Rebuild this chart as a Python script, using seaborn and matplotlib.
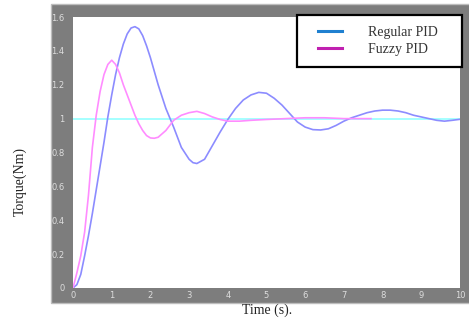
import pandas as pd
import matplotlib.pyplot as plt
import seaborn as sns
from matplotlib.lines import Line2D
from matplotlib.patches import Rectangle
from matplotlib.legend_handler import HandlerLine2D

# values
t_regular = [0, 0.1, 0.2, 0.3, 0.4, 0.5, 0.6, 0.7, 0.8, 0.9, 1.0, 1.1, 1.2, 1.3, 1.4,
             1.5, 1.6, 1.7, 1.8, 1.9, 2.0, 2.2, 2.4, 2.6, 2.8, 3.0, 3.1, 3.2, 3.4, 3.6,
             3.8, 4.0, 4.2, 4.4, 4.6, 4.8, 5.0, 5.2, 5.4, 5.6, 5.8, 6.0, 6.2, 6.4, 6.6,
             6.8, 7.0, 7.2, 7.4, 7.6, 7.8, 8.0, 8.2, 8.4, 8.6, 8.8, 9.0, 9.2, 9.4, 9.6,
             9.8, 10]
torque_regular = [0, 0.02, 0.08, 0.19, 0.31, 0.44, 0.58, 0.72, 0.86, 1.01, 1.14, 1.26,
                  1.36, 1.44, 1.50, 1.535, 1.543, 1.53, 1.49, 1.43, 1.36, 1.20, 1.06,
                  0.95, 0.83, 0.76, 0.74, 0.735, 0.76, 0.84, 0.92, 0.995, 1.06, 1.11,
                  1.14, 1.155, 1.15, 1.12, 1.08, 1.03, 0.98, 0.95, 0.935, 0.933, 0.94,
                  0.96, 0.985, 1.005, 1.02, 1.035, 1.045, 1.05, 1.05, 1.045, 1.035,
                  1.02, 1.01, 1.0, 0.99, 0.985, 0.99, 0.996]

t_fuzzy = [0, 0.1, 0.2, 0.3, 0.4, 0.5, 0.6, 0.7, 0.8, 0.9, 1.0, 1.1, 1.2, 1.3, 1.4, 1.5,
           1.6, 1.7, 1.8, 1.9, 2.0, 2.1, 2.2, 2.4, 2.5, 2.6, 2.8, 3.0, 3.2, 3.4, 3.6,
           3.8, 4.0, 4.3, 4.6, 5.0, 5.5, 6.0, 6.5, 7.0, 7.5, 7.7]
torque_fuzzy = [0, 0.09, 0.19, 0.33, 0.55, 0.83, 1.02, 1.16, 1.26, 1.32, 1.345, 1.32,
                1.27, 1.20, 1.14, 1.08, 1.02, 0.97, 0.93, 0.90, 0.886, 0.884, 0.89,
                0.93, 0.96, 0.99, 1.02, 1.035, 1.043, 1.03, 1.01, 0.995, 0.985, 0.985,
                0.99, 0.995, 1.0, 1.005, 1.005, 1.0, 1.0, 1.0]

t_ref = [0, 10]
torque_ref = [1, 1]

y_ticks = [0, 0.2, 0.4, 0.6, 0.8, 1, 1.2, 1.4, 1.6]
y_tick_labels = ['0', '0.2', '0.4', '0.6', '0.8', '1', '1.2', '1.4', '1.6']
x_ticks = list(range(0, 11))

df_reg = pd.DataFrame({'t': t_regular, 'v': torque_regular})
df_fuz = pd.DataFrame({'t': t_fuzzy, 'v': torque_fuzzy})
df_ref = pd.DataFrame({'t': t_ref, 'v': torque_ref})

fig = plt.figure(figsize=(4.69, 3.22), dpi=100)
# grey frame behind the plot area
fig.patches.append(Rectangle((0.1087, 0.059), 0.895, 0.929, transform=fig.transFigure,
                             facecolor='#7d7d7d', edgecolor='#bdbdbd', lw=1, zorder=-1))
ax = fig.add_axes([0.1557, 0.1056, 0.825, 0.8416])
ax.set_zorder(2)
ax.set_facecolor('white')

sns.lineplot(data=df_ref, x='t', y='v', ax=ax, color='#8cffff', lw=1.1)
sns.lineplot(data=df_reg, x='t', y='v', ax=ax, color='#8c8cff', lw=1.2)
sns.lineplot(data=df_fuz, x='t', y='v', ax=ax, color='#ff8cff', lw=1.2)

ax.set_xlim(0, 10)
ax.set_ylim(0, 1.6)
ax.set_xticks(x_ticks)
ax.set_xticklabels([str(x) for x in x_ticks])
ax.set_yticks(y_ticks)
ax.set_yticklabels(y_tick_labels)
ax.tick_params(length=0, labelsize=6, labelcolor='#dedede')
ax.tick_params(axis='y', pad=6)
ax.tick_params(axis='x', pad=2)
for s in ax.spines.values():
    s.set_visible(False)
ax.set_xlabel('')
ax.set_ylabel('')

fig.text(0.043, 0.435, 'Torque(Nm)', rotation=90, ha='center', va='center',
         family='Liberation Serif', fontsize=10, color='#222222')
fig.text(0.57, 0.035, 'Time (s).', ha='center', va='center',
         family='Liberation Serif', fontsize=10, color='#222222')

handles = [Line2D([], [], color='#1f80d0', lw=2.2),
           Line2D([], [], color='#c020b0', lw=2.2)]
leg = ax.legend(handles, ['Regular PID', 'Fuzzy PID'],
                loc='upper left', bbox_to_anchor=(0.579, 1.007, 0.426, 0.0), mode='expand',
                prop={'family': 'Liberation Serif', 'size': 10}, labelcolor='#333333',
                handler_map={Line2D: HandlerLine2D(xpad=0.72)},
                handlelength=2.45, handletextpad=1.85, borderpad=0.8, labelspacing=0.25,
                borderaxespad=0, fancybox=False, framealpha=1)
leg.get_frame().set_edgecolor('black')
leg.get_frame().set_linewidth(1.6)
leg.set_zorder(5)

fig.savefig('out.png', dpi=100)
